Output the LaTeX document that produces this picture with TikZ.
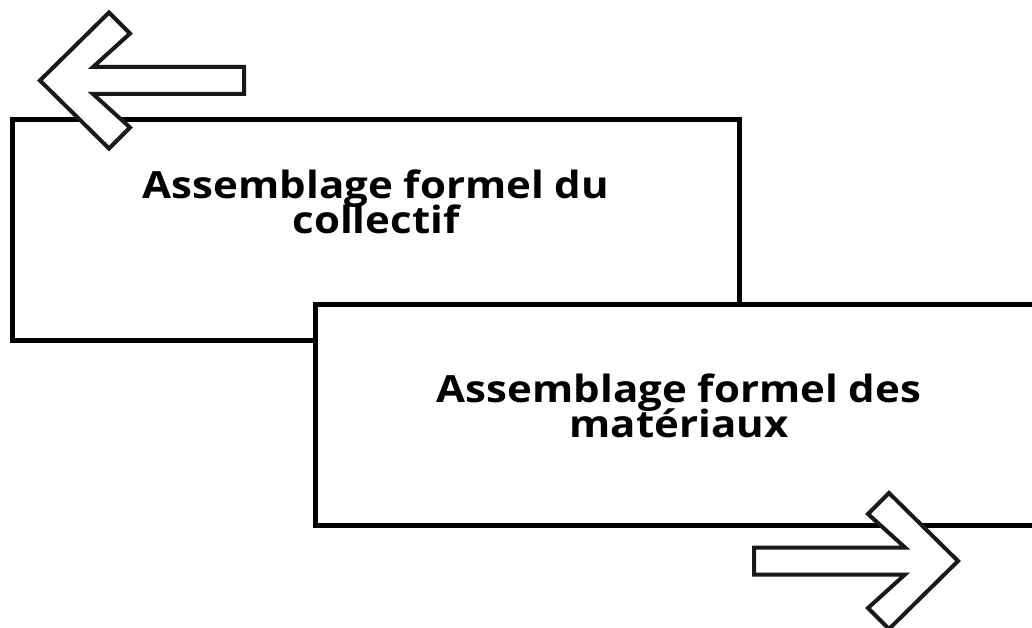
\documentclass[tikz,border=0pt]{standalone}
\usepackage{fontspec}
\setmainfont{Open Sans}[FakeStretch=1.12]
\usepackage{tikz}
\usetikzlibrary{positioning}
\newcommand{\tightlines}{\lineskiplimit=-100pt\relax}

\begin{document}
\begin{tikzpicture}[x=1pt,y=-1pt,
        panel/.style={draw=black, line width=5pt, fill=white},
        flow/.style={draw=black!90, line width=4pt, fill=white, line join=miter},
        title/.style={align=center, inner sep=0pt,
          font=\fontsize{37.5}{35.5}\selectfont\bfseries\tightlines}]
        \clip (0,0) rectangle (1032,628);
        % the two panels
        \draw[panel] (12,120) rectangle (739,340);
        \draw[panel] (315,304) rectangle (1045,525);
        \node[title] (collectif) at (376,202) {Assemblage formel du\\collectif};
        \node[title] (materiaux) at (679,406) {Assemblage formel des\\matériaux};
        % outline arrows
        \draw[flow] (40,80.5) -- (109,12.5) -- (130,33.5) -- (93,67) -- (244,67)
          -- (244,94) -- (93,94) -- (130,127.5) -- (109,148.5) -- cycle;
        \draw[flow] (958,561) -- (889,493) -- (868,514) -- (905,547.5) -- (754,547.5)
          -- (754,574.5) -- (905,574.5) -- (868,608) -- (889,629) -- cycle;
      \end{tikzpicture}
\end{document}
